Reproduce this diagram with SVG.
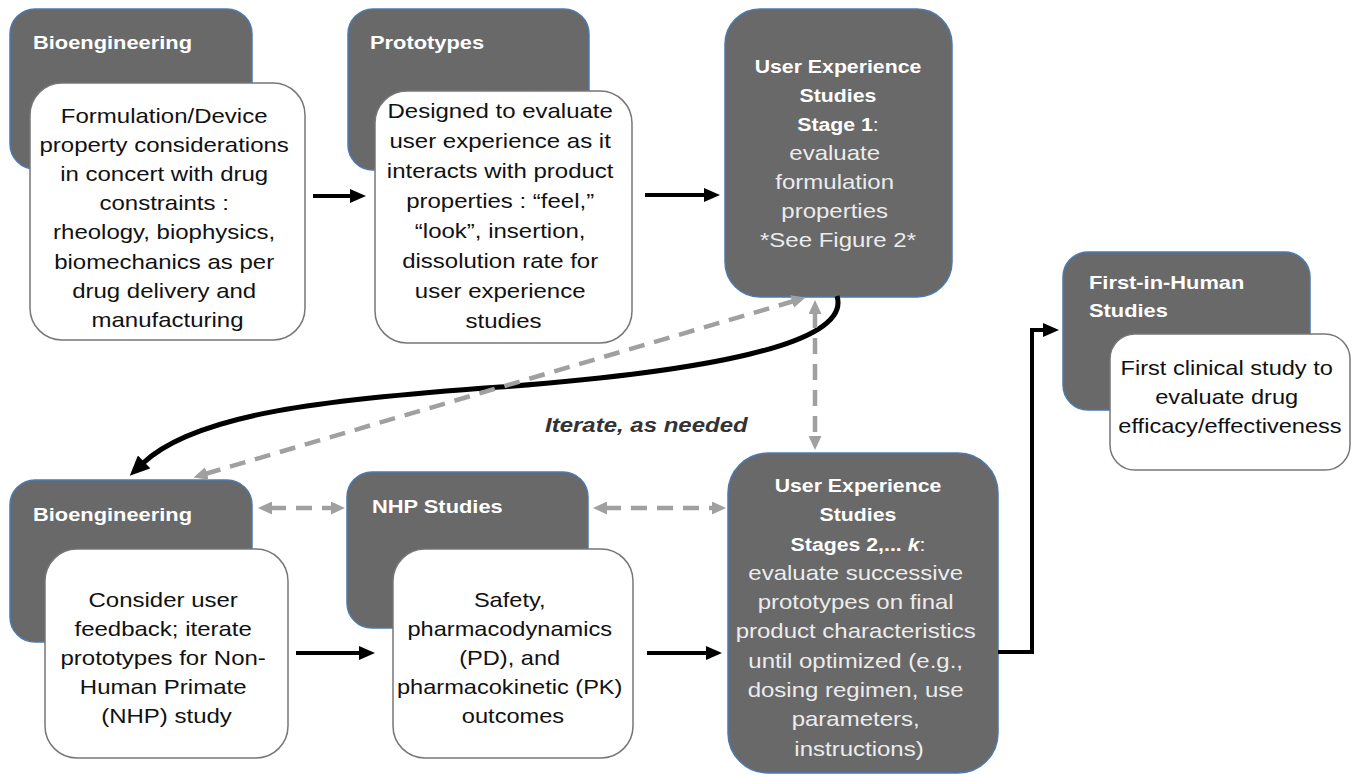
<svg xmlns="http://www.w3.org/2000/svg" width="1361" height="775" viewBox="0 0 1361 775">
<defs>
<style>
.dk{fill:#696969;stroke:#4a7ab0;stroke-width:1.5}
.wt{fill:#fff;stroke:#777;stroke-width:1.5}
.h{font-family:"Liberation Sans",Arial,sans-serif;font-weight:bold;font-size:19px;fill:#fff}
.hc{font-family:"Liberation Sans",Arial,sans-serif;font-weight:bold;font-size:19px;fill:#fff;text-anchor:middle}
.b{font-family:"Liberation Sans",Arial,sans-serif;font-size:20px;fill:#111;text-anchor:middle}
.d{font-family:"Liberation Sans",Arial,sans-serif;font-size:20px;fill:#ececec;text-anchor:middle}
.bl{fill:none;stroke:#000;stroke-width:4}
.gd{fill:none;stroke:#a0a0a0;stroke-width:4.5;stroke-dasharray:16 10}
.lab{font-family:"Liberation Sans",Arial,sans-serif;font-weight:bold;font-style:italic;font-size:20px;fill:#333}
</style>
<marker id="ab" markerWidth="16" markerHeight="14" refX="2" refY="7" orient="auto" markerUnits="userSpaceOnUse"><path d="M0,0 L16,7 L0,14 z" fill="#000"/></marker>
<marker id="ac" markerWidth="20" markerHeight="18" refX="3" refY="9" orient="auto" markerUnits="userSpaceOnUse"><path d="M0,0 L20,9 L0,18 z" fill="#000"/></marker>
<marker id="ag" markerWidth="14" markerHeight="13" refX="2" refY="6.5" orient="auto-start-reverse" markerUnits="userSpaceOnUse"><path d="M0,0 L14,6.5 L0,13 z" fill="#a0a0a0"/></marker>
</defs>
<rect width="1361" height="775" fill="#fff"/>

<g id="bioeng-top">
<rect class="dk" x="10" y="9" width="242" height="160" rx="25"/>
<g transform="translate(33 0) scale(1.15 1)"><text class="h" x="0" y="49">Bioengineering</text></g>
<rect class="wt" x="30" y="83" width="275" height="257" rx="32"/>
<g transform="translate(167.5 0) scale(1.2 1)"><text class="b">
<tspan x="0" y="123">Formulation/Device</tspan>
<tspan x="0" y="152">property considerations</tspan>
<tspan x="0" y="181">in concert with drug</tspan>
<tspan x="0" y="210">constraints :</tspan>
<tspan x="0" y="239">rheology, biophysics,</tspan>
<tspan x="0" y="269">biomechanics as per</tspan>
<tspan x="0" y="298">drug delivery and</tspan>
<tspan x="0" y="327">manufacturing</tspan>
</text></g>
</g>

<g id="prototypes">
<rect class="dk" x="348" y="9" width="241" height="161" rx="25"/>
<g transform="translate(370 0) scale(1.15 1)"><text class="h" x="0" y="49">Prototypes</text></g>
<rect class="wt" x="375" y="91" width="257" height="252" rx="32"/>
<g transform="translate(503.5 0) scale(1.2 1)"><text class="b">
<tspan x="0" y="118">Designed to evaluate</tspan>
<tspan x="0" y="148">user experience as it</tspan>
<tspan x="0" y="178">interacts with product</tspan>
<tspan x="0" y="208">properties : “feel,”</tspan>
<tspan x="0" y="238">“look”, insertion,</tspan>
<tspan x="0" y="268">dissolution rate for</tspan>
<tspan x="0" y="298">user experience</tspan>
<tspan x="0" y="328">studies</tspan>
</text></g>
</g>

<g id="ux-stage1">
<rect class="dk" x="725" y="9" width="227" height="288" rx="35"/>
<g transform="translate(838 0) scale(1.12 1)">
<text class="hc" x="0" y="73">User Experience</text>
<text class="hc" x="0" y="102">Studies</text>
<text class="hc" x="0" y="131">Stage 1<tspan font-weight="normal">:</tspan></text>
</g>
<g transform="translate(838 0) scale(1.2 1)"><text class="d">
<tspan x="0" y="160">evaluate</tspan>
<tspan x="0" y="189">formulation</tspan>
<tspan x="0" y="218">properties</tspan>
<tspan x="0" y="247">*See Figure 2*</tspan>
</text></g>
</g>

<g id="first-in-human">
<rect class="dk" x="1063" y="252" width="247" height="158" rx="25"/>
<g transform="translate(1089 0) scale(1.15 1)">
<text class="h" x="0" y="289">First-in-Human</text>
<text class="h" x="0" y="317">Studies</text>
</g>
<rect class="wt" x="1110" y="334" width="240" height="136" rx="25"/>
<g transform="translate(1230 0) scale(1.18 1)"><text class="b">
<tspan x="0" y="375">First clinical study to</tspan>
<tspan x="0" y="404">evaluate drug</tspan>
<tspan x="0" y="433">efficacy/effectiveness</tspan>
</text></g>
</g>

<g id="bioeng-bottom">
<rect class="dk" x="10" y="480" width="242" height="162" rx="25"/>
<g transform="translate(33 0) scale(1.15 1)"><text class="h" x="0" y="521">Bioengineering</text></g>
<rect class="wt" x="45" y="549" width="243" height="209" rx="32"/>
<g transform="translate(166.5 0) scale(1.2 1)"><text class="b">
<tspan x="0" y="607">Consider user</tspan>
<tspan x="0" y="636">feedback; iterate</tspan>
<tspan x="0" y="665">prototypes for Non-</tspan>
<tspan x="0" y="694">Human Primate</tspan>
<tspan x="0" y="723">(NHP) study</tspan>
</text></g>
</g>

<g id="nhp-studies">
<rect class="dk" x="347" y="472" width="241" height="156" rx="25"/>
<g transform="translate(372 0) scale(1.15 1)"><text class="h" x="0" y="513">NHP Studies</text></g>
<rect class="wt" x="393" y="549" width="240" height="209" rx="32"/>
<g transform="translate(513 0) scale(1.18 1)"><text class="b">
<tspan x="0" y="607">Safety,</tspan>
<tspan x="0" y="636">pharmacodynamics</tspan>
<tspan x="0" y="665">(PD), and</tspan>
<tspan x="0" y="694">pharmacokinetic (PK)</tspan>
<tspan x="0" y="723">outcomes</tspan>
</text></g>
</g>

<g id="ux-stages2k">
<rect class="dk" x="728" y="453" width="270" height="320" rx="40"/>
<g transform="translate(858 0) scale(1.12 1)">
<text class="hc" x="0" y="492">User Experience</text>
<text class="hc" x="0" y="521">Studies</text>
<text class="hc" x="0" y="551">Stages 2,... <tspan font-style="italic">k</tspan><tspan font-weight="normal">:</tspan></text>
</g>
<g transform="translate(859 0) scale(1.2 1)"><text class="d">
<tspan x="0" y="580">evaluate successive</tspan>
<tspan x="0" y="609">prototypes on final</tspan>
<tspan x="0" y="638">product characteristics</tspan>
<tspan x="0" y="668">until optimized (e.g.,</tspan>
<tspan x="0" y="697">dosing regimen, use</tspan>
<tspan x="0" y="726">parameters,</tspan>
<tspan x="0" y="756">instructions)</tspan>
</text></g>
</g>

<g id="connectors">
<line class="bl" x1="313" y1="196" x2="352" y2="196" marker-end="url(#ab)"/>
<line class="bl" x1="645" y1="195" x2="706" y2="195" marker-end="url(#ab)"/>
<line class="bl" x1="296" y1="653" x2="361" y2="653" marker-end="url(#ab)"/>
<line class="bl" x1="647" y1="653" x2="708" y2="653" marker-end="url(#ab)"/>
<polyline class="bl" points="998,652 1032,652 1032,330 1045,330" marker-end="url(#ab)"/>
<path d="M837,296 C852,345 700,372 500,387 C330,399 195,413 142,464" fill="none" stroke="#000" stroke-width="5" marker-end="url(#ac)"/>
<line class="gd" x1="205" y1="474" x2="794" y2="301" marker-start="url(#ag)" marker-end="url(#ag)"/>
<line class="gd" x1="815" y1="312" x2="815" y2="438" marker-start="url(#ag)" marker-end="url(#ag)"/>
<line class="gd" x1="270" y1="508" x2="333" y2="508" marker-start="url(#ag)" marker-end="url(#ag)"/>
<line class="gd" x1="605" y1="508" x2="714" y2="508" marker-start="url(#ag)" marker-end="url(#ag)"/>
<g transform="translate(545 0) scale(1.2 1)"><text class="lab" x="0" y="432">Iterate, as needed</text></g>
</g>
</svg>
